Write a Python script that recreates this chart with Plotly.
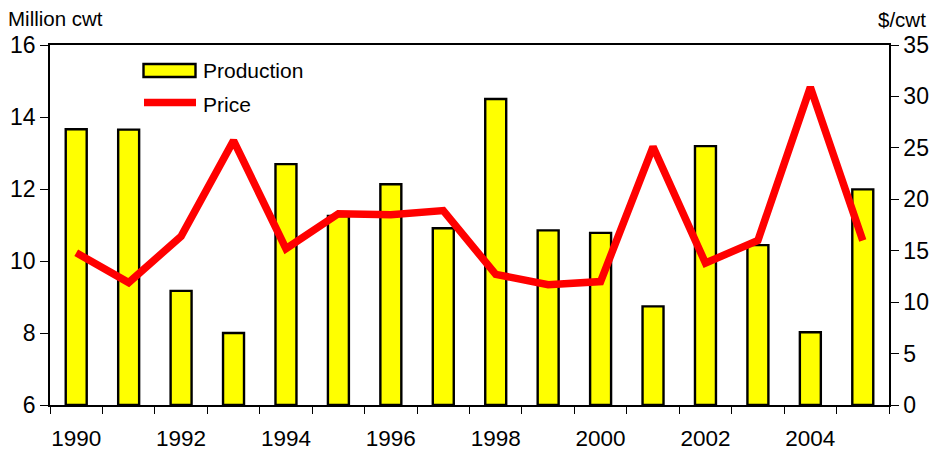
import plotly.graph_objects as go

# Annual production (million cwt) and season-average price ($/cwt)
years = [1990, 1991, 1992, 1993, 1994, 1995, 1996, 1997,
         1998, 1999, 2000, 2001, 2002, 2003, 2004, 2005]
production = [13.66, 13.65, 9.17, 8.0, 12.69, 11.25, 12.13, 10.91,
              14.5, 10.85, 10.78, 8.74, 13.19, 10.44, 8.02, 11.99]
price = [14.8, 11.9, 16.4, 25.7, 15.2, 18.6, 18.5, 18.9,
         12.7, 11.7, 12.0, 25.1, 13.8, 16.0, 30.9, 16.0]

year_labels = [1990, 1992, 1994, 1996, 1998, 2000, 2002, 2004]
left_ticks = [6, 8, 10, 12, 14, 16]
right_ticks = [0, 5, 10, 15, 20, 25, 30, 35]

FONT = "Liberation Sans, Arial, sans-serif"
W, H = 938, 451
L, R, T, B = 50, 49, 45, 46

fig = go.Figure()
fig.add_trace(go.Bar(
    x=years, y=[p - 6 for p in production], base=6, width=0.4,
    marker=dict(color="#FFFF00", line=dict(color="#000000", width=2.4)),
    name="Production", yaxis="y", showlegend=False,
    customdata=production, hovertemplate="%{x}: %{customdata}<extra></extra>",
))
fig.add_trace(go.Scatter(
    x=years, y=price, mode="lines",
    line=dict(color="#FF0000", width=7.5),
    name="Price", yaxis="y2", showlegend=False,
))

pw = W - L - R
ph = H - T - B


def px(xp):
    return (xp - L) / pw


def py(yp):
    return 1 - (yp - T) / ph


# Legend drawn as shapes + text
shapes = [
    dict(type="rect", xref="paper", yref="paper",
         x0=px(143.5), x1=px(195.5), y0=py(77), y1=py(64),
         fillcolor="#FFFF00", line=dict(color="#000000", width=2.4)),
    dict(type="line", xref="paper", yref="paper",
         x0=px(144), x1=px(196), y0=py(102.5), y1=py(102.5),
         line=dict(color="#FF0000", width=7.5)),
]
annotations = [
    dict(text="Production", xref="paper", yref="paper", x=px(201), y=py(71),
         xanchor="left", yanchor="middle", showarrow=False,
         font=dict(size=21, color="#000000", family=FONT)),
    dict(text="Price", xref="paper", yref="paper", x=px(201), y=py(105),
         xanchor="left", yanchor="middle", showarrow=False,
         font=dict(size=21, color="#000000", family=FONT)),
    dict(text="Million cwt", xref="paper", yref="paper", x=px(6), y=py(18),
         xanchor="left", yanchor="middle", showarrow=False,
         font=dict(size=20.5, color="#000000", family=FONT)),
    dict(text="$/cwt", xref="paper", yref="paper", x=px(928), y=py(19),
         xanchor="right", yanchor="middle", showarrow=False,
         font=dict(size=20.5, color="#000000", family=FONT)),
]

fig.update_layout(
    width=W, height=H,
    margin=dict(l=L, r=R, t=T, b=B, pad=0, autoexpand=False),
    paper_bgcolor="#FFFFFF", plot_bgcolor="#FFFFFF",
    font=dict(family=FONT, size=23, color="#000000"),
    showlegend=False,
    shapes=shapes, annotations=annotations,
    xaxis=dict(
        range=[1989.5, 2005.5], tickmode="array", tickvals=year_labels,
        ticks="outside", ticklen=0, ticklabelstandoff=12, automargin=False,
        showline=True, linecolor="#000000", linewidth=1.5, mirror=True,
        showgrid=False, zeroline=False,
        minor=dict(tickmode="array",
                   tickvals=[y - 0.5 for y in years] + [2005.5],
                   ticks="outside", ticklen=7, tickcolor="#000000",
                   showgrid=False),
        tickfont=dict(size=22.5),
    ),
    yaxis=dict(
        range=[6, 16], tickmode="array", tickvals=left_ticks,
        ticks="outside", ticklen=8, tickcolor="#000000", tickwidth=1,
        showline=True, linecolor="#000000", linewidth=1.5, automargin=False,
        showgrid=False, zeroline=False, tickfont=dict(size=23),
    ),
    yaxis2=dict(
        range=[0, 35], tickmode="array", tickvals=right_ticks,
        overlaying="y", side="right", automargin=False,
        ticks="outside", ticklen=8, tickcolor="#000000", tickwidth=1,
        showline=True, linecolor="#000000", linewidth=1.5,
        showgrid=False, zeroline=False, tickfont=dict(size=23),
    ),
)

fig.write_html("out.html")
